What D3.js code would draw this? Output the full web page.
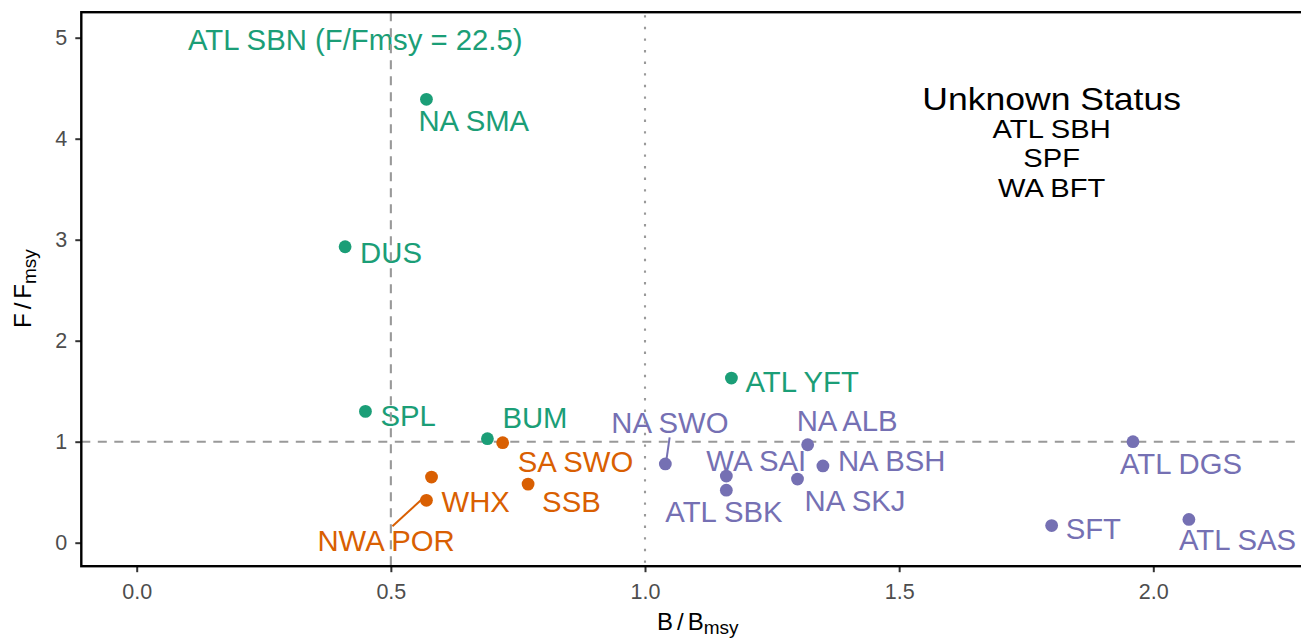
<!DOCTYPE html>
<html>
<head>
<meta charset="utf-8">
<script src="https://cdn.jsdelivr.net/npm/d3@7"></script>
<style>
  html, body { margin: 0; padding: 0; background: #fff; }
  svg { display: block; }
  text { font-family: "Liberation Sans", Arial, Helvetica, sans-serif; }
</style>
</head>
<body>
<svg id="chart" width="1301" height="639"></svg>
<script>
// ---------------- data ----------------
const stocks = ["NA SMA","DUS","SPL","BUM","ATL YFT","SA SWO","WHX","NWA POR","SSB",
                "NA SWO","WA SAI","ATL SBK","NA ALB","NA BSH","NA SKJ","ATL DGS","SFT","ATL SAS"];
const bRatio = [0.57,0.41,0.45,0.69,1.17,0.72,0.58,0.57,0.77,
                1.04,1.16,1.16,1.32,1.35,1.30,1.96,1.80,2.07];
const fRatio = [4.39,2.93,1.30,1.03,1.63,0.99,0.65,0.42,0.58,
                0.78,0.66,0.52,0.97,0.76,0.63,1.00,0.17,0.23];
const status = ["Overfishing","Overfishing","Overfishing","Overfishing","Overfishing",
                "Overfished","Overfished","Overfished","Overfished",
                "Healthy","Healthy","Healthy","Healthy","Healthy","Healthy","Healthy","Healthy","Healthy"];
const statusNames = ["Overfishing","Overfished","Healthy"];
const statusColors = ["#1B9E77","#D95F02","#7570B3"];
const offscaleLabel = "ATL SBN (F/Fmsy = 22.5)";
const unknownTitle = "Unknown Status";
const unknownStocks = ["ATL SBH","SPF","WA BFT"];
const xTicks = [0, 0.5, 1.0, 1.5, 2.0];
const yTicks = [0, 1, 2, 3, 4, 5];
const refB = [0.5];     // dashed
const refBdot = [1.0];  // dotted
const refF = [1];       // dashed

// ---------------- layout (label placement, pixel offsets from point) ----------------
const labelLayout = {
  "NA SMA":  {dx:-8,  dy:32},
  "DUS":     {dx:15,  dy:16},
  "SPL":     {dx:15,  dy:15},
  "BUM":     {dx:15,  dy:-11},
  "ATL YFT": {dx:14,  dy:14},
  "SA SWO":  {dx:15,  dy:29},
  "WHX":     {dx:10,  dy:35},
  "NWA POR": {dx:-109,dy:51, seg:[-34,26,-4,-1.5]},
  "SSB":     {dx:14,  dy:28},
  "NA SWO":  {dx:-54, dy:-31, seg:[4.3,-26.5,1.3,-5.5]},
  "WA SAI":  {dx:-20, dy:-5},
  "ATL SBK": {dx:-61, dy:32},
  "NA ALB":  {dx:-11, dy:-14},
  "NA BSH":  {dx:15,  dy:5},
  "NA SKJ":  {dx:7,   dy:32},
  "ATL DGS": {dx:-13, dy:32},
  "SFT":     {dx:14,  dy:13},
  "ATL SAS": {dx:-10, dy:31}
};

const panel = {left:81.3, top:12.2, right:1303, bottom:566.2};
const svg = d3.select("#chart");

const x = d3.scaleLinear().domain([-0.109, 2.2945]).range([panel.left, panel.right]);
const y = d3.scaleLinear().domain([-0.2327, 5.2525]).range([panel.bottom, panel.top]);
const color = d3.scaleOrdinal().domain(statusNames).range(statusColors);

const rows = stocks.map((s,i) => ({name:s, b:bRatio[i], f:fRatio[i], st:status[i]}));

// ---------------- axes ----------------
const gx = svg.append("g").attr("transform", `translate(0,${panel.bottom})`)
  .call(d3.axisBottom(x).tickValues(xTicks).tickFormat(d3.format(".1f")).tickSize(6).tickPadding(12));
const gy = svg.append("g").attr("transform", `translate(${panel.left},0)`)
  .call(d3.axisLeft(y).tickValues(yTicks).tickFormat(d3.format("d")).tickSize(6).tickPadding(8));
[gx, gy].forEach(g => {
  g.select(".domain").remove();
  g.selectAll(".tick line").attr("stroke", "#333").attr("stroke-width", 2);
  g.selectAll(".tick text").attr("fill", "#4D4D4D").style("font-size", "21.5px")
    .style("font-family", '"Liberation Sans", Arial, sans-serif');
});

// ---------------- labels ----------------
const gl = svg.append("g");
rows.forEach(r => {
  const L = labelLayout[r.name];
  const px = x(r.b), py = y(r.f);
  if (L.seg) {
    gl.append("line")
      .attr("x1", px + L.seg[0]).attr("y1", py + L.seg[1])
      .attr("x2", px + L.seg[2]).attr("y2", py + L.seg[3])
      .attr("stroke", color(r.st)).attr("stroke-width", 2);
  }
  gl.append("text").attr("x", px + L.dx).attr("y", py + L.dy)
    .attr("fill", color(r.st)).style("font-size", "29.3px").text(r.name);
});

// off-scale stock annotation
gl.append("text").attr("x", x(0.43)).attr("y", y(5.0) + 12)
  .attr("text-anchor", "middle").attr("fill", color("Overfishing"))
  .style("font-size", "29.3px").text(offscaleLabel);

// unknown-status annotation
const ux = x(1.80);
const uTitleY = y(4.284);
svg.append("text").attr("transform", `translate(${ux},${uTitleY}) scale(1.11,1)`)
  .attr("text-anchor", "middle").attr("fill", "#000").style("font-size", "32px").text(unknownTitle);
unknownStocks.forEach((s, i) => {
  svg.append("text").attr("transform", `translate(${ux},${uTitleY + 27.5 + i * 29.7}) scale(1.12,1)`)
    .attr("text-anchor", "middle").attr("fill", "#000").style("font-size", "26px").text(s);
});

// ---------------- reference lines ----------------
const gr = svg.append("g").attr("stroke", "#999").attr("stroke-width", 2.1).attr("fill", "none");
refB.forEach(v => gr.append("line").attr("x1", x(v)).attr("x2", x(v))
  .attr("y1", panel.top).attr("y2", panel.bottom).attr("stroke-dasharray", "9,7"));
refBdot.forEach(v => gr.append("line").attr("x1", x(v)).attr("x2", x(v))
  .attr("y1", panel.top + 3).attr("y2", panel.bottom).attr("stroke-dasharray", "2.4,9.2"));
refF.forEach(v => gr.append("line").attr("x1", panel.left).attr("x2", panel.right)
  .attr("y1", y(v)).attr("y2", y(v)).attr("stroke-dasharray", "9,7.5"));

// ---------------- points ----------------
svg.append("g").selectAll("circle").data(rows).join("circle")
  .attr("cx", d => x(d.b)).attr("cy", d => y(d.f)).attr("r", 6.4)
  .attr("fill", d => color(d.st));

// ---------------- panel border ----------------
svg.append("rect").attr("x", panel.left).attr("y", panel.top)
  .attr("width", panel.right - panel.left).attr("height", panel.bottom - panel.top)
  .attr("fill", "none").attr("stroke", "#000").attr("stroke-width", 2.4);

// ---------------- axis titles ----------------
const xt = svg.append("text").attr("x", 657).attr("y", 630).attr("fill", "#000").style("font-size", "24px");
xt.append("tspan").text("B");
xt.append("tspan").attr("dx", 4).text("/");
xt.append("tspan").attr("dx", 4).text("B");
xt.append("tspan").attr("dy", 4).style("font-size", "19px").text("msy");

const yt = svg.append("text").attr("transform", "translate(31,328) rotate(-90)")
  .attr("fill", "#000").style("font-size", "24px");
yt.append("tspan").text("F");
yt.append("tspan").attr("dx", 4).text("/");
yt.append("tspan").attr("dx", 4).text("F");
yt.append("tspan").attr("dy", 5).style("font-size", "19px").text("msy");
</script>
</body>
</html>
